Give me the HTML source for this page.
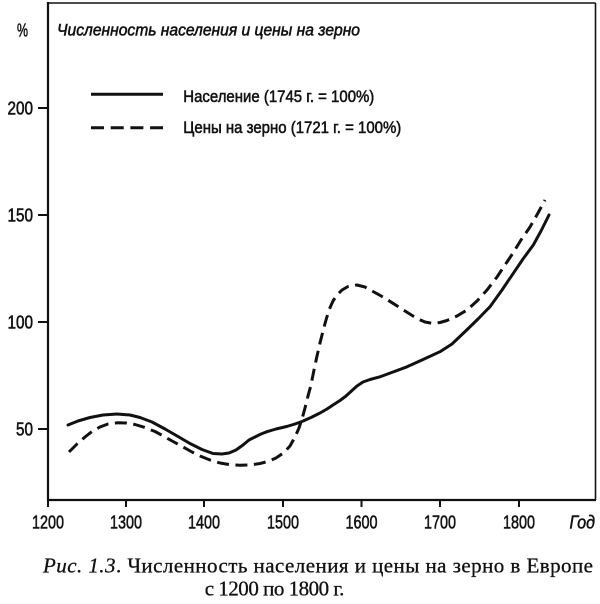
<!DOCTYPE html>
<html>
<head>
<meta charset="utf-8">
<style>
  html, body { margin: 0; padding: 0; background: #fff; }
  svg { display: block; }
  .sans { font-family: "Liberation Sans", "DejaVu Sans", sans-serif; fill: #111; stroke: #111; stroke-width: 0.55; }
  .serif { font-family: "Liberation Serif", "DejaVu Serif", serif; fill: #111; stroke: #111; stroke-width: 0.3; }
</style>
</head>
<body>
<svg width="600" height="604" viewBox="0 0 600 604" xmlns="http://www.w3.org/2000/svg">
  <rect x="0" y="0" width="600" height="604" fill="#fff"/>

  <!-- frame -->
  <line x1="48" y1="3" x2="595.5" y2="3" stroke="#111" stroke-width="1.6"/>
  <line x1="595.5" y1="3" x2="595.5" y2="500" stroke="#111" stroke-width="1.6"/>
  <line x1="48" y1="2" x2="48" y2="501" stroke="#111" stroke-width="2.2"/>
  <line x1="47" y1="500" x2="596" y2="500" stroke="#111" stroke-width="2.2"/>

  <!-- y ticks -->
  <g stroke="#111" stroke-width="2">
    <line x1="38" y1="108" x2="48" y2="108"/>
    <line x1="38" y1="215" x2="48" y2="215"/>
    <line x1="38" y1="322" x2="48" y2="322"/>
    <line x1="38" y1="429" x2="48" y2="429"/>
  </g>
  <!-- x ticks -->
  <g stroke="#111" stroke-width="2">
    <line x1="48" y1="500" x2="48" y2="507"/>
    <line x1="126" y1="500" x2="126" y2="507"/>
    <line x1="204" y1="500" x2="204" y2="507"/>
    <line x1="283" y1="500" x2="283" y2="507"/>
    <line x1="361.5" y1="500" x2="361.5" y2="507"/>
    <line x1="440" y1="500" x2="440" y2="507"/>
    <line x1="519" y1="500" x2="519" y2="507"/>
  </g>

  <!-- y labels -->
  <g class="sans" font-size="18">
    <text x="7.5" y="114.5" textLength="25.5" lengthAdjust="spacingAndGlyphs">200</text>
    <text x="7.5" y="221.5" textLength="25.5" lengthAdjust="spacingAndGlyphs">150</text>
    <text x="7.5" y="328.5" textLength="25.5" lengthAdjust="spacingAndGlyphs">100</text>
    <text x="16" y="435.5" textLength="17" lengthAdjust="spacingAndGlyphs">50</text>
  </g>
  <!-- x labels -->
  <g class="sans" font-size="18.5">
    <text x="32" y="528.5" textLength="32" lengthAdjust="spacingAndGlyphs">1200</text>
    <text x="110" y="528.5" textLength="32" lengthAdjust="spacingAndGlyphs">1300</text>
    <text x="188" y="528.5" textLength="32" lengthAdjust="spacingAndGlyphs">1400</text>
    <text x="267" y="528.5" textLength="32" lengthAdjust="spacingAndGlyphs">1500</text>
    <text x="345.5" y="528.5" textLength="32" lengthAdjust="spacingAndGlyphs">1600</text>
    <text x="424" y="528.5" textLength="32" lengthAdjust="spacingAndGlyphs">1700</text>
    <text x="503" y="528.5" textLength="32" lengthAdjust="spacingAndGlyphs">1800</text>
    <text x="569.5" y="528.5" font-style="italic" textLength="25.5" lengthAdjust="spacingAndGlyphs">Год</text>
  </g>

  <!-- % and title -->
  <text class="sans" x="17" y="36.5" font-size="18" textLength="11" lengthAdjust="spacingAndGlyphs">%</text>
  <text class="sans" x="57" y="35.5" font-size="16.5" font-style="italic" textLength="303" lengthAdjust="spacingAndGlyphs">Численность населения и цены на зерно</text>

  <!-- legend -->
  <line x1="91" y1="94.3" x2="163" y2="94.3" stroke="#111" stroke-width="3"/>
  <line x1="91" y1="127.7" x2="163" y2="127.7" stroke="#111" stroke-width="3" stroke-dasharray="13 6.7"/>
  <text class="sans" x="183.3" y="102" font-size="16.5" textLength="191" lengthAdjust="spacingAndGlyphs">Население (1745 г. = 100%)</text>
  <text class="sans" x="183.3" y="133" font-size="16.5" textLength="218" lengthAdjust="spacingAndGlyphs">Цены на зерно (1721 г. = 100%)</text>

  <!-- population (solid) -->
  <polyline fill="none" stroke="#111" stroke-width="3" stroke-linejoin="round" stroke-linecap="round"
    points="68,425 78,421 90,417.5 103,415 117,414 130,415 140,417.5 152,422 165,429 178,436.5 190,443.5 202,449.5 213,453.5 222,454 229,453 236,450 243,445 249,440 255,437 261,434 267,431.7 276,429 286.7,426.5 295,424 302,421.5 311,417.5 320,413 327,409 333,405 340,400.5 346,396 352,390.5 357,386 363,382 370,379.5 380,376.8 393,372 407,366.8 422,360 440,351.7 452,344 466.7,330 478,319 490,306.7 502,290 513.3,273.3 523,259 533.3,245 541,231 549,215"/>

  <!-- grain prices (dashed) -->
  <polyline fill="none" stroke="#111" stroke-width="3" stroke-linejoin="round" stroke-dasharray="12 6.5"
    points="69,452 77,444 85,437 92,431.5 100,427 108,424 117,422.8 126,423 135,424.5 145,427.5 155,431.5 165,437 174,442 183,447 192,452 200,456 210,460 220,463 230,464.7 240,465.2 250,465 260,463.5 268,461.5 276,458 284,452.5 290,446 295,437 299,428 302,419 305,408 308,396 311,385 314,370 317,356 320,343 323,331 326,320 329,310 333,301 337,295 342,290 348,286.5 357,285 365,287 373,291.5 383,297 393,303.3 405,311 417,318.5 425,322 432,323.3 440,322.5 447,320.5 457,316 467,310 477,301 487,290 497,277 505,265 513,253 521,240 530,227 538,213 545,200"/>

  <!-- caption -->
  <text class="serif" x="43" y="572.5" font-size="21" textLength="550">
    <tspan font-style="italic">Рис. 1.3</tspan>. Численность населения и цены на зерно в Европе</text>
  <text class="serif" x="204.7" y="595.5" font-size="21" textLength="139.7">с 1200 по 1800 г.</text>
</svg>
</body>
</html>
